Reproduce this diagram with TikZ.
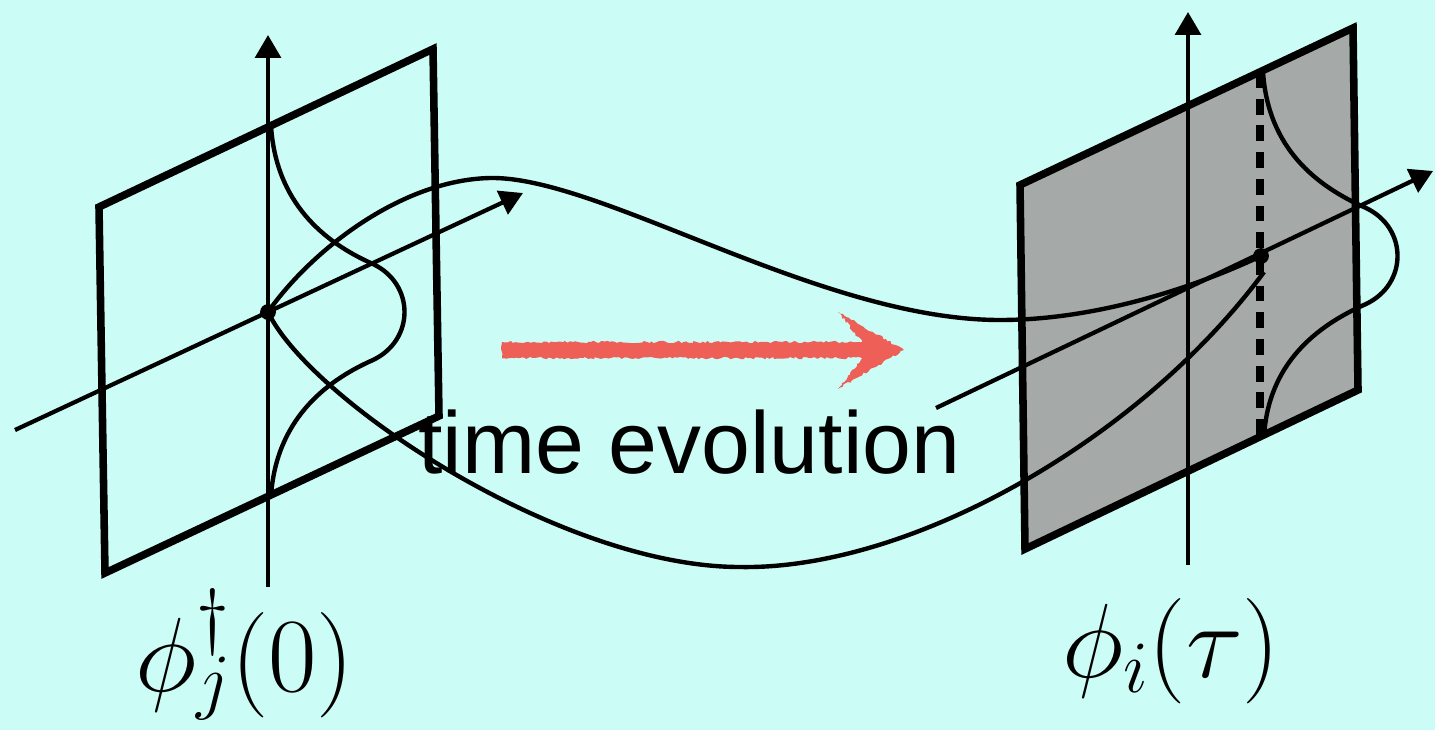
\RequirePackage{fix-cm}
\documentclass[tikz,border=0pt]{standalone}
\usepackage{fontspec}
\newfontfamily\labelfont{Liberation Sans}
\usetikzlibrary{arrows.meta,decorations.pathmorphing}
\definecolor{bgc}{HTML}{CCFCF6}
\definecolor{planegray}{HTML}{A5A9A7}
\definecolor{chalkred}{HTML}{EE5F58}
\begin{document}
\begin{tikzpicture}[x=0.02cm,y=-0.02cm,
  plane/.style={line width=4.3pt, line join=miter},
  axis/.style={line width=2.4pt, -{Triangle[length=13pt,width=14.5pt]}},
  curve/.style={line width=2.5pt},
  dashline/.style={line width=4.2pt, dash pattern=on 9pt off 6.2pt},
  dot/.style={circle, fill=black, inner sep=0pt, minimum size=9pt},
  lab/.style={anchor=base west, inner sep=0pt}]
\fill[bgc] (0,0) rectangle (1435,730);
\useasboundingbox (0,0) rectangle (1435,730);
% planes
\draw[plane] (99,207) -- (433,49) -- (439,416) -- (105,573) -- cycle;
\filldraw[plane, fill=planegray] (1020,185) -- (1353,28) -- (1358,390) -- (1025,549) -- cycle;
% points
\node[dot] (dL) at (268,312) {};
\node[dot] (dR) at (1261,256) {};
% axes left
\coordinate (vL0) at (268,587);
\coordinate (vL1) at (268,35);
\coordinate (hL0) at (15,430);
\coordinate (hL1) at (523,193);
\draw[axis] (vL0) -- (vL1);
\draw[axis] (hL0) -- (hL1);
% axes right
\coordinate (vR0) at (1188,565);
\coordinate (vR1) at (1188,12);
\coordinate (hR0) at (936,408);
\coordinate (hR1) at (1433,171);
\draw[axis] (vR0) -- (vR1);
\draw[axis] (hR0) -- (hR1);
% dashed line
\coordinate (dTop) at (1260,72);
\coordinate (dBot) at (1260,437);
\draw[dashline] (dTop) -- (dBot);
% bell-like curves
\draw[curve, shift={(268,312)}] (3,-186) .. controls (8,-110) and (55,-70) .. (105,-48)
   .. controls (147,-28) and (147,28) .. (105,48) .. controls (55,70) and (8,110) .. (3,184);
\draw[curve, shift={(1261,256)}] (2,-184) .. controls (7,-108) and (55,-70) .. (105,-48)
   .. controls (147,-28) and (147,28) .. (105,48) .. controls (55,70) and (7,108) .. (3,181);
% connecting curves
\draw[curve] (dL.center) .. controls (310,252) and (400,180) .. (490,178)
   .. controls (600,176) and (820,320) .. (1000,320)
   .. controls (1100,320) and (1200,285) .. (dR.center);
\coordinate (lowEnd) at (1264,272);
\draw[curve] (dL.center) .. controls (310,400) and (560,567) .. (740,567)
   .. controls (910,570) and (1140,440) .. (lowEnd);
% red arrow
\fill[chalkred, decorate, decoration={random steps, segment length=1.5pt, amplitude=0.7pt}]
   (502,342) -- (862,342) -- (838,312) -- (904,350) -- (838,389) -- (862,358) -- (502,358) -- cycle;
% texts
\node[lab, font=\labelfont\fontsize{50}{50}\selectfont] (te) at (418,473) {time evolution};
\node[lab, font=\fontsize{60}{60}\selectfont] (labL) at (135,691) {$\phi^\dagger_j(0)$};
\node[lab, font=\fontsize{60}{60}\selectfont] (labR) at (1062,677) {$\phi_i(\tau)$};
\end{tikzpicture}
\end{document}
